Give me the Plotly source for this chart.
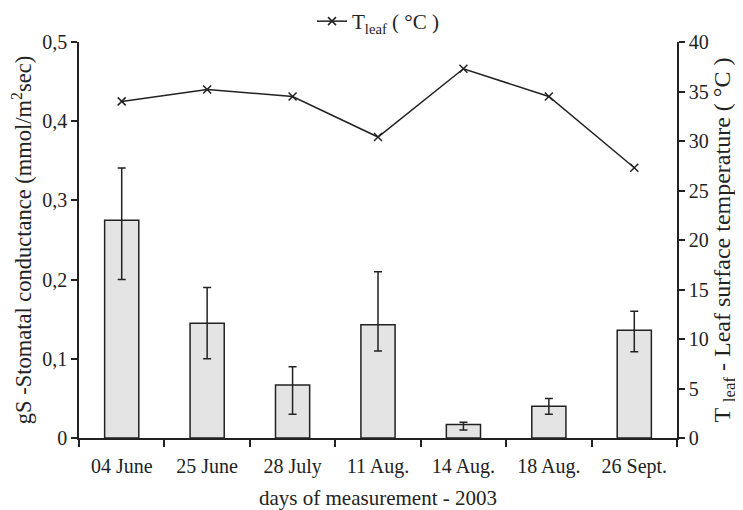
import plotly.graph_objects as go

dates = ["04 June", "25 June", "28 July", "11 Aug.", "14 Aug.", "18 Aug.", "26 Sept."]
gs_mean = [0.275, 0.145, 0.067, 0.143, 0.017, 0.040, 0.136]
gs_err_plus = [0.066, 0.045, 0.023, 0.067, 0.003, 0.010, 0.024]
gs_err_minus = [0.075, 0.045, 0.037, 0.033, 0.007, 0.010, 0.027]
t_leaf = [34.0, 35.2, 34.5, 30.4, 37.3, 34.5, 27.3]

left_ticks = [0, 0.1, 0.2, 0.3, 0.4, 0.5]
left_ticktext = ["0", "0,1", "0,2", "0,3", "0,4", "0,5"]

FONT = "Liberation Serif"
INK = "#222222"

fig = go.Figure()
fig.add_trace(go.Bar(
    x=dates, y=gs_mean, width=0.4, showlegend=False,
    marker=dict(color="#e4e4e4", line=dict(color=INK, width=1.5)),
    error_y=dict(type="data", symmetric=False, array=gs_err_plus,
                 arrayminus=gs_err_minus, color=INK, thickness=1.5, width=4),
))
fig.add_trace(go.Scatter(
    x=dates, y=t_leaf, yaxis="y2", mode="lines+markers",
    name="T<sub>leaf</sub> ( °C )",
    line=dict(color=INK, width=1.5),
    marker=dict(symbol="x-thin", size=8, line=dict(color=INK, width=1.5)),
))

fig.update_layout(
    width=743, height=510,
    margin=dict(l=71, r=74, t=34, b=80, autoexpand=False),
    paper_bgcolor="white", plot_bgcolor="white",
    font=dict(family=FONT, size=19, color=INK),
    showlegend=True,
    legend=dict(orientation="h", x=0.5, xanchor="center", y=1.0, yanchor="bottom",
                font=dict(size=21), bgcolor="rgba(0,0,0,0)"),
    xaxis=dict(
        showline=True, linecolor=INK, linewidth=1.5, automargin=False,
        ticks="outside", tickson="boundaries", ticklen=7, tickcolor=INK, tickwidth=1.5,
        ticklabelstandoff=9, tickfont=dict(size=20),
        title=dict(text="days of measurement - 2003", font=dict(size=21), standoff=14),
        showgrid=False,
    ),
    yaxis=dict(
        range=[0, 0.5], tickvals=left_ticks, ticktext=left_ticktext,
        showline=True, linecolor=INK, linewidth=1.5, automargin=False,
        ticks="outside", ticklen=6, tickcolor=INK, tickwidth=1.5,
        tickfont=dict(size=20),
        showgrid=False, zeroline=False,
        title=dict(text="gS -Stomatal conductance (mmol/m<sup>2</sup>sec)", font=dict(size=22.5), standoff=5),
    ),
    yaxis2=dict(
        range=[0, 40], dtick=5, overlaying="y", side="right",
        showline=True, linecolor=INK, linewidth=1.5, automargin=False,
        ticks="outside", ticklen=6, tickcolor=INK, tickwidth=1.5,
        tickfont=dict(size=20),
        showgrid=False, zeroline=False,
        title=dict(text="T <sub>leaf</sub> - Leaf surface temperature ( °C )", font=dict(size=24), standoff=3),
    ),
)

fig.write_html("out.html")
